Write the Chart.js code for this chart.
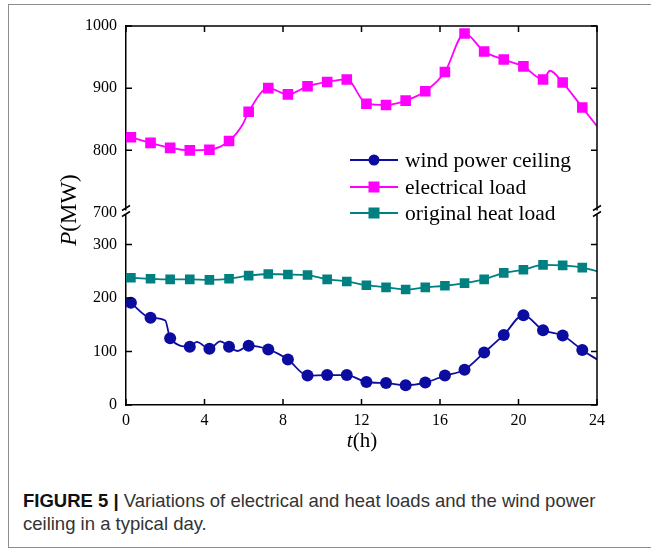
<!DOCTYPE html>
<html>
<head>
<meta charset="utf-8">
<script src="https://cdn.jsdelivr.net/npm/chart.js@4.4.0/dist/chart.umd.min.js"></script>
<style>
  html, body { margin: 0; padding: 0; background: #fff; overflow: hidden; }
  #frame { position: absolute; left: 8px; top: 4px; width: 700px; height: 544px; border: 1px solid #8c8c8c; box-sizing: border-box; }
  #chart { position: absolute; left: 0; top: 0; }
  #caption { position: absolute; left: 23px; top: 489px; width: 620px; font-family: "Liberation Sans", Arial, sans-serif; font-size: 18.5px; line-height: 23px; color: #333; white-space: nowrap; }
  #caption b { color: #111; }
</style>
</head>
<body>
<div id="frame"></div>
<canvas id="chart" width="651" height="470"></canvas>
<div id="caption">
  <div><b>FIGURE 5 |</b> Variations of electrical and heat loads and the wind power</div>
  <div>ceiling in a typical day.</div>
</div>
<script>
// hours where the markers sit
const markerHours = [0.25, 1.25, 2.25, 3.25, 4.25, 5.25, 6.25, 7.25, 8.25, 9.25, 10.25, 11.25,
  12.25, 13.25, 14.25, 15.25, 16.25, 17.25, 18.25, 19.25, 20.25, 21.25, 22.25, 23.25];

// marker values (MW)
const windMarkers = [191, 163, 125, 109, 105, 109, 111, 104, 85, 55, 56, 56,
  43, 41, 37, 42, 55, 66, 98, 131, 168, 140, 130, 103];
const elecMarkers = [821, 812, 804, 800, 801, 815, 862, 900, 890, 903, 910, 914,
  875, 873, 880, 895, 926, 988, 959, 946, 935, 914, 909, 869];
const heatMarkers = [238, 236, 235, 235, 234, 236, 242, 245, 244, 243, 235, 231,
  224, 220, 216, 220, 223, 228, 235, 247, 253, 262, 261, 257];

// unmarked points where the curves bend between markers, and the end at 24 h
const windBendHours = [2.0, 3.6, 4.8, 5.7, 24];
const windBendValues = [158, 118, 119, 101, 85];
const elecBendHours = [5.95, 21.6, 24];
const elecBendValues = [842, 928, 839];
const heatBendHours = [24];
const heatBendValues = [250];

// tick labels
const xTicks = [0, 4, 8, 12, 16, 20, 24];
const topTicks = [700, 800, 900, 1000];
const bottomTicks = [0, 100, 200, 300];

const serif = '"Liberation Serif", "Times New Roman", serif';

function buildPoints(hours, values, bendHours, bendValues) {
  const pts = hours.map((t, i) => ({ x: t, y: values[i], marker: true }));
  bendHours.forEach((t, i) => pts.push({ x: t, y: bendValues[i], marker: false }));
  return pts.sort((a, b) => a.x - b.x);
}

function markerSize(r) {
  return ctx => (ctx.raw && ctx.raw.marker ? r : 0);
}

// frame, inward ticks, axis breaks, legend and axis titles
const decorations = {
  id: 'decorations',
  afterDatasetsDraw(chart) {
    const { ctx, chartArea: a, scales } = chart;
    ctx.save();
    ctx.strokeStyle = '#000';
    ctx.lineWidth = 1.5;

    ctx.beginPath();
    ctx.moveTo(a.left, a.top);
    ctx.lineTo(a.right, a.top);
    ctx.lineTo(a.right, a.bottom);
    ctx.stroke();

    const len = 6;
    const yBreak = scales.yTop.bottom;
    ctx.beginPath();
    xTicks.forEach(v => {
      const px = scales.x.getPixelForValue(v);
      ctx.moveTo(px, a.bottom); ctx.lineTo(px, a.bottom - len);
      ctx.moveTo(px, a.top); ctx.lineTo(px, a.top + len);
    });
    [[scales.yTop, topTicks], [scales.yBottom, bottomTicks]].forEach(([s, ticks]) => {
      ticks.forEach(v => {
        const py = s.getPixelForValue(v);
        if (Math.abs(py - yBreak) < 3) return;
        ctx.moveTo(a.left, py); ctx.lineTo(a.left + len, py);
        ctx.moveTo(a.right, py); ctx.lineTo(a.right - len, py);
      });
    });
    ctx.stroke();

    // axis break marks
    [a.left, a.right].forEach(x0 => {
      ctx.fillStyle = '#fff';
      ctx.fillRect(x0 - 2, yBreak - 2, 4, 4);
      ctx.beginPath();
      ctx.moveTo(x0 - 4, yBreak - 2); ctx.lineTo(x0 + 4, yBreak - 7);
      ctx.moveTo(x0 - 4, yBreak + 4); ctx.lineTo(x0 + 4, yBreak - 1);
      ctx.stroke();
    });

    // legend
    const rows = [160, 187, 213];
    ctx.font = '21.5px ' + serif;
    ctx.textBaseline = 'middle';
    ctx.textAlign = 'left';
    chart.data.datasets.forEach((ds, i) => {
      const y = rows[i];
      ctx.strokeStyle = ds.borderColor;
      ctx.lineWidth = 2;
      ctx.beginPath();
      ctx.moveTo(350, y); ctx.lineTo(398, y);
      ctx.stroke();
      ctx.fillStyle = ds.backgroundColor;
      if (ds.pointStyle === 'circle') {
        ctx.beginPath();
        ctx.arc(374, y, 5.5, 0, Math.PI * 2);
        ctx.fill();
      } else {
        ctx.fillRect(374 - 5.5, y - 5.5, 11, 11);
      }
      ctx.fillStyle = '#000';
      ctx.fillText(ds.label, 405, y + 1);
    });

    // y title
    ctx.save();
    ctx.translate(70, 210);
    ctx.rotate(-Math.PI / 2);
    ctx.font = 'italic 23px ' + serif;
    const wP = ctx.measureText('P').width;
    ctx.font = '23px ' + serif;
    const wRest = ctx.measureText('(MW)').width;
    let x = -(wP + wRest) / 2;
    ctx.font = 'italic 23px ' + serif;
    ctx.fillText('P', x, 0);
    ctx.font = '23px ' + serif;
    ctx.fillText('(MW)', x + wP, 0);
    ctx.restore();

    // x title
    ctx.font = 'italic 21px ' + serif;
    const wt = ctx.measureText('t').width;
    ctx.font = '21px ' + serif;
    const wh = ctx.measureText('(h)').width;
    x = 362 - (wt + wh) / 2;
    ctx.font = 'italic 21px ' + serif;
    ctx.fillText('t', x, 441);
    ctx.font = '21px ' + serif;
    ctx.fillText('(h)', x + wt, 441);

    ctx.restore();
  }
};

const tickFont = { family: serif, size: 16 };
const plainLabel = v => String(v);

const config = {
  type: 'line',
  data: {
    datasets: [{
      label: 'wind power ceiling',
      data: buildPoints(markerHours, windMarkers, windBendHours, windBendValues),
      yAxisID: 'yBottom',
      borderColor: '#0c0ca0',
      backgroundColor: '#0c0ca0',
      borderWidth: 1.8,
      pointStyle: 'circle',
      pointRadius: markerSize(6),
      pointBorderWidth: 0,
      cubicInterpolationMode: 'monotone'
    }, {
      label: 'electrical load',
      data: buildPoints(markerHours, elecMarkers, elecBendHours, elecBendValues),
      yAxisID: 'yTop',
      borderColor: '#ff00ff',
      backgroundColor: '#ff00ff',
      borderWidth: 1.8,
      pointStyle: 'rect',
      pointRadius: markerSize(7.5),
      pointBorderWidth: 0,
      cubicInterpolationMode: 'monotone'
    }, {
      label: 'original heat load',
      data: buildPoints(markerHours, heatMarkers, heatBendHours, heatBendValues),
      yAxisID: 'yBottom',
      borderColor: '#008080',
      backgroundColor: '#008080',
      borderWidth: 1.8,
      pointStyle: 'rect',
      pointRadius: markerSize(6.8),
      pointBorderWidth: 0,
      cubicInterpolationMode: 'monotone'
    }]
  },
  options: {
    responsive: false,
    animation: false,
    events: [],
    layout: { padding: { top: 26, right: 54, left: 0, bottom: 0 } },
    plugins: {
      legend: { display: false },
      tooltip: { enabled: false }
    },
    scales: {
      x: {
        type: 'linear',
        min: 0,
        max: 24,
        afterBuildTicks: s => { s.ticks = xTicks.map(v => ({ value: v })); },
        afterFit: s => { s.height = 65; },
        ticks: { font: tickFont, color: '#000', padding: 6, maxRotation: 0, callback: plainLabel },
        grid: { display: false, drawTicks: false },
        border: { color: '#000', width: 1.5 }
      },
      yBottom: {
        type: 'linear',
        position: 'left',
        stack: 'p',
        stackWeight: 192,
        min: 0,
        max: 360,
        afterBuildTicks: s => { s.ticks = bottomTicks.map(v => ({ value: v })); },
        afterFit: s => { s.width = 126; },
        ticks: { font: tickFont, color: '#000', padding: 9, callback: plainLabel },
        grid: { display: false, drawTicks: false },
        border: { color: '#000', width: 1.5 }
      },
      yTop: {
        type: 'linear',
        position: 'left',
        stack: 'p',
        stackWeight: 186,
        min: 700,
        max: 1000,
        afterBuildTicks: s => { s.ticks = topTicks.map(v => ({ value: v })); },
        afterFit: s => { s.width = 126; },
        ticks: { font: tickFont, color: '#000', padding: 9, callback: plainLabel },
        grid: { display: false, drawTicks: false },
        border: { color: '#000', width: 1.5 }
      }
    }
  },
  plugins: [decorations]
};

const loadChart = new Chart(document.getElementById('chart'), config);
</script>
</body>
</html>
